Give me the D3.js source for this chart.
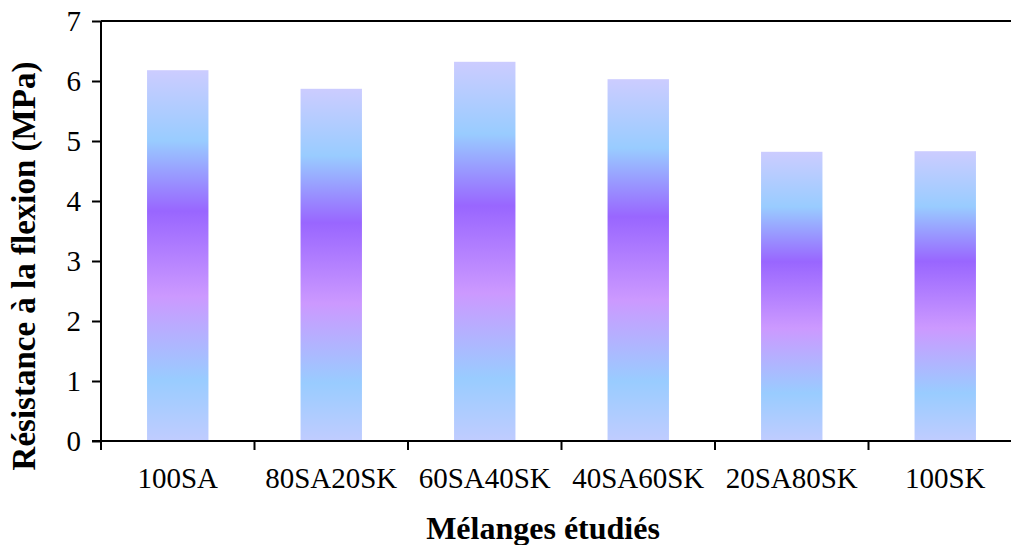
<!DOCTYPE html>
<html>
<head>
<meta charset="utf-8">
<script src="https://cdn.jsdelivr.net/npm/d3@7"></script>
<style>
  html, body { margin: 0; padding: 0; background: #fff; }
  svg { display: block; }
  text { font-family: "Liberation Serif", "Times New Roman", serif; fill: #000; }
</style>
</head>
<body>
<svg id="chart" width="1011" height="545"></svg>
<script>
const categories = ["100SA", "80SA20SK", "60SA40SK", "40SA60SK", "20SA80SK", "100SK"];
const values = [6.18, 5.87, 6.32, 6.03, 4.82, 4.83];
const yTicks = [0, 1, 2, 3, 4, 5, 6, 7];
const yTitle = "Résistance à la flexion (MPa)";
const xTitle = "Mélanges étudiés";
const gradientStops = [
  { offset: 0.0, color: "#ccccff" },
  { offset: 0.19, color: "#99ccff" },
  { offset: 0.38, color: "#9966ff" },
  { offset: 0.61, color: "#cc99ff" },
  { offset: 0.835, color: "#99ccff" },
  { offset: 1.0, color: "#c0ccff" }
];

const svg = d3.select("#chart");
const mLeft = 101, mRight = 1022, mTop = 21, mBottom = 441;

const x = d3.scaleBand().domain(categories).range([mLeft, mRight]).paddingInner(0.6).paddingOuter(0.3);
const y = d3.scaleLinear().domain([0, 7]).range([mBottom, mTop]);

const defs = svg.append("defs");
const grad = defs.append("linearGradient").attr("id", "barGrad")
  .attr("x1", 0).attr("y1", 0).attr("x2", 0).attr("y2", 1);
grad.selectAll("stop").data(gradientStops).join("stop")
  .attr("offset", d => d.offset).attr("stop-color", d => d.color);

// bars
svg.append("g").selectAll("rect").data(categories).join("rect")
  .attr("x", d => x(d))
  .attr("width", x.bandwidth())
  .attr("y", (d, i) => y(values[i]))
  .attr("height", (d, i) => y(0) - y(values[i]))
  .attr("fill", "url(#barGrad)");

// top border
svg.append("line").attr("x1", mLeft).attr("x2", mRight).attr("y1", mTop).attr("y2", mTop)
  .attr("stroke", "#000").attr("stroke-width", 2);

// y axis
const yAxis = svg.append("g").attr("transform", `translate(${mLeft},0)`)
  .call(d3.axisLeft(y).tickValues(yTicks).tickSize(9).tickPadding(11).tickFormat(d3.format("d")));
yAxis.select(".domain").attr("stroke", "#000").attr("stroke-width", 2).attr("d", `M0,${mTop}V${mBottom}`);
yAxis.selectAll(".tick line").attr("stroke", "#000").attr("stroke-width", 2);
yAxis.selectAll(".tick text").style("font-size", "29px").attr("font-family", "Liberation Serif");

// x axis
const xAxis = svg.append("g").attr("transform", `translate(0,${mBottom})`)
  .call(d3.axisBottom(x).tickSize(0).tickPadding(26));
xAxis.select(".domain").attr("stroke", "#000").attr("stroke-width", 2).attr("d", `M${mLeft - 9},0H${mRight}`);
xAxis.selectAll(".tick text").style("font-size", "29px").attr("font-family", "Liberation Serif");

// category separator ticks
const sepPositions = categories.map((c, i) => mLeft + i * x.step());
svg.append("g").selectAll("line").data(sepPositions).join("line")
  .attr("x1", d => d).attr("x2", d => d)
  .attr("y1", mBottom).attr("y2", mBottom + 9)
  .attr("stroke", "#000").attr("stroke-width", 2);

// titles
svg.append("text")
  .attr("transform", `translate(35,266) rotate(-90)`)
  .attr("text-anchor", "middle")
  .style("font-size", "33px").style("font-weight", "bold")
  .text(yTitle);

svg.append("text")
  .attr("x", 543).attr("y", 539)
  .attr("text-anchor", "middle")
  .style("font-size", "32px").style("font-weight", "bold")
  .text(xTitle);
</script>
</body>
</html>
